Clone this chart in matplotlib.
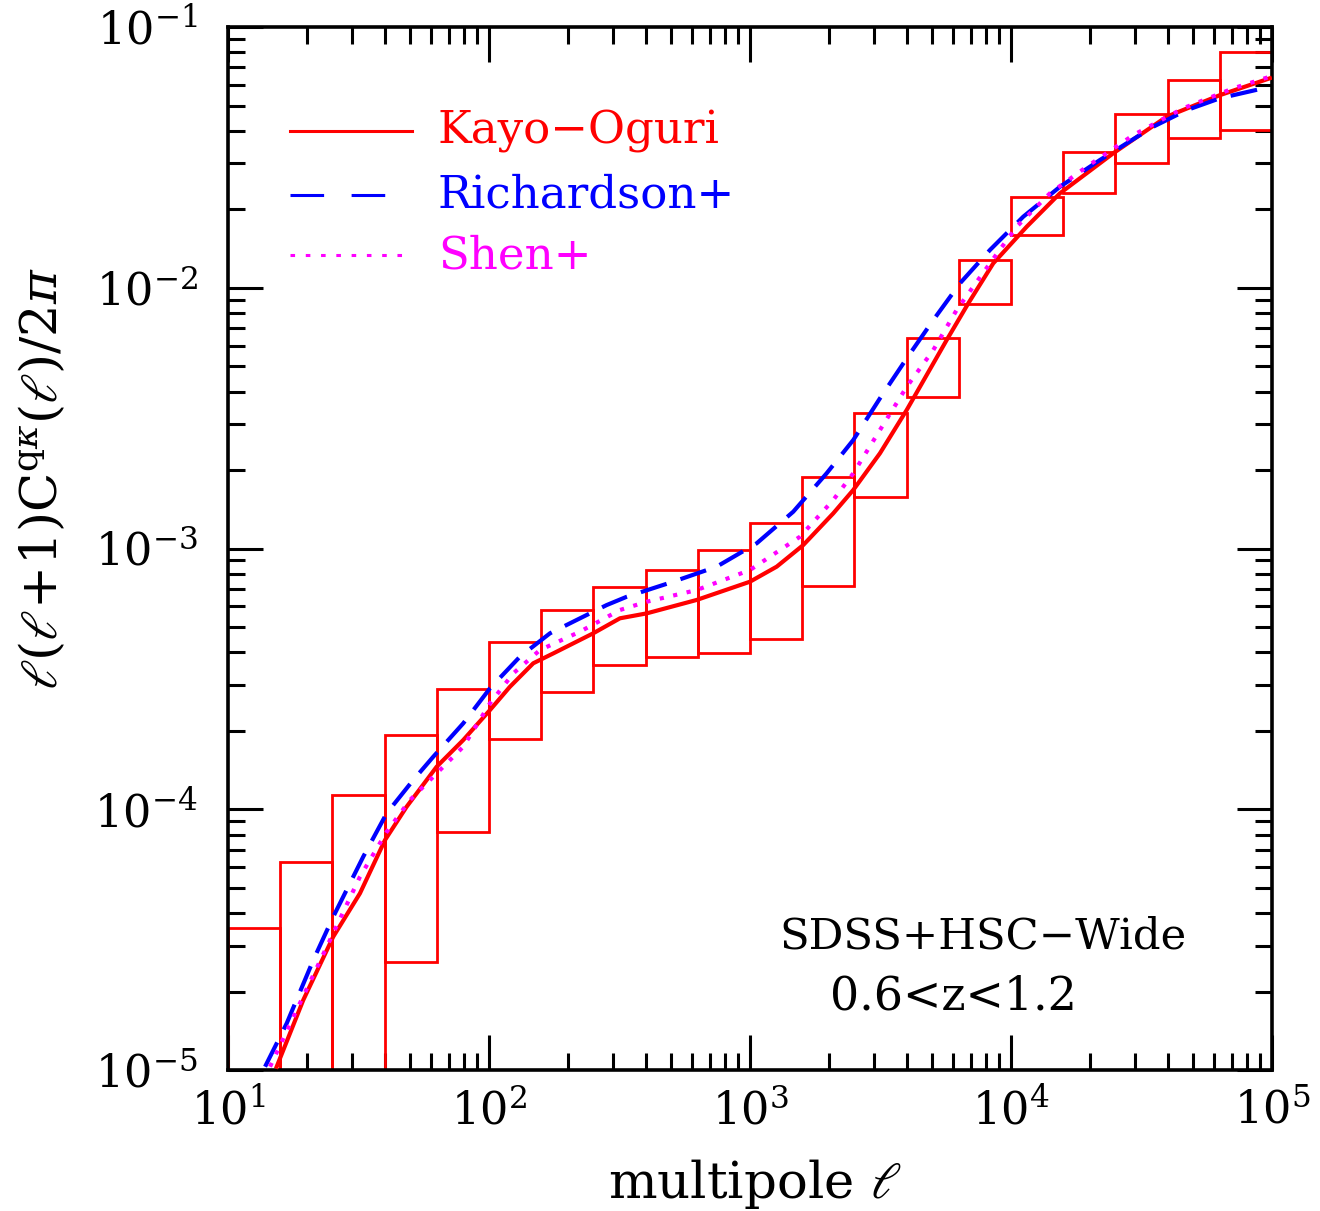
import matplotlib
matplotlib.use("Agg")
import matplotlib.pyplot as plt
from matplotlib.patches import Rectangle

plt.rcParams['font.family'] = ['DejaVu Serif']
plt.rcParams['mathtext.fontset'] = 'dejavuserif'

# bins in multipole (log-spaced edges) and error boxes
bin_edges = [10, 15.85, 25.12, 39.81, 63.1, 100, 158.5, 251.2, 398.1, 631.0, 1000,
             1585, 2512, 3981, 6310, 10000, 15850, 25120, 39810, 63100, 100000]
box_hi = [3.5e-5, 6.28e-5, 1.135e-4, 1.93e-4, 2.89e-4, 4.37e-4, 5.81e-4, 7.11e-4,
          8.28e-4, 9.87e-4, 1.25e-3, 1.88e-3, 3.31e-3, 6.41e-3, 1.28e-2, 2.23e-2,
          3.32e-2, 4.64e-2, 6.26e-2, 8.02e-2]
box_lo = [1e-7, 1e-7, 1e-7, 2.6e-5, 8.19e-5, 1.86e-4, 2.82e-4, 3.57e-4,
          3.84e-4, 3.97e-4, 4.50e-4, 7.18e-4, 1.58e-3, 3.81e-3, 8.67e-3, 1.59e-2,
          2.31e-2, 3.01e-2, 3.75e-2, 4.03e-2]

# model curves
ko_l = [15.37, 19.43, 25.31, 32.04, 39.96, 48.38, 63.04, 79.7, 100.9, 120.3, 147.8,
        176.3, 250.9, 317.6, 402, 625, 1000, 1266, 1600, 2085, 2488, 3148, 3986,
        5670, 6861, 8554, 11486, 15408, 24660, 39500, 63210, 98240]
ko_c = [1.03e-5, 1.855e-5, 3.245e-5, 4.76e-5, 7.62e-5, 1.023e-4, 1.456e-4, 1.843e-4,
        2.402e-4, 2.95e-4, 3.63e-4, 3.96e-4, 4.73e-4, 5.40e-4, 5.64e-4, 6.35e-4,
        7.46e-4, 8.52e-4, 1.031e-3, 1.364e-3, 1.677e-3, 2.318e-3, 3.398e-3, 6.30e-3,
        8.71e-3, 1.241e-2, 1.714e-2, 2.303e-2, 3.28e-2, 4.53e-2, 5.48e-2, 6.36e-2]

ri_l = [13.87, 16.79, 21.23, 25.31, 32.99, 40.55, 51.28, 61.17, 79.7, 100.9, 131.5,
        171.3, 223.3, 282.5, 337, 508, 745.6, 1061, 1465, 1967, 2488, 3148, 3986,
        5040, 6377, 8309, 11146, 15408, 21930, 35100, 47130, 63210, 94000]
ri_c = [1.03e-5, 1.51e-5, 2.64e-5, 3.87e-5, 6.58e-5, 9.65e-5, 1.295e-4, 1.59e-4,
        2.136e-4, 2.91e-4, 3.85e-4, 4.73e-4, 5.40e-4, 6.07e-4, 6.53e-4, 7.46e-4,
        8.52e-4, 1.047e-3, 1.384e-3, 1.943e-3, 2.607e-3, 3.767e-3, 5.36e-3, 7.52e-3,
        1.04e-2, 1.396e-2, 1.873e-2, 2.44e-2, 3.09e-2, 4.147e-2, 4.80e-2, 5.33e-2, 5.84e-2]

sh_l = [14.49, 18.34, 24.59, 32.04, 40.55, 49.82, 63.04, 79.7, 100.9, 123.9, 156.8,
        223.3, 317.6, 402, 625, 1000, 1555, 2085, 2488, 3148, 3986, 5040, 6194,
        8309, 10515, 14104, 19500, 29420, 45730, 71090, 98240]
sh_c = [1.03e-5, 1.70e-5, 3.15e-5, 5.51e-5, 8.19e-5, 1.085e-4, 1.373e-4, 1.737e-4,
        2.548e-4, 3.32e-4, 4.08e-4, 4.80e-4, 5.81e-4, 6.25e-4, 6.93e-4, 8.27e-4,
        1.11e-3, 1.535e-3, 1.943e-3, 2.847e-3, 4.17e-3, 5.77e-3, 8.22e-3, 1.241e-2,
        1.714e-2, 2.303e-2, 2.91e-2, 3.85e-2, 4.88e-2, 5.82e-2, 6.45e-2]

RED = '#ff0000'
BLUE = '#0000ff'
MAG = '#ff00ff'

fig = plt.figure(figsize=(13.2, 12.11), dpi=100)
ax = fig.add_axes([0.1727, 0.1164, 0.7909, 0.8613])
ax.set_xscale('log')
ax.set_yscale('log')
ax.set_xlim(10, 1e5)
ax.set_ylim(1e-5, 1e-1)

# error boxes
for i in range(len(box_hi)):
    x0 = bin_edges[i]
    w = bin_edges[i + 1] - bin_edges[i]
    ax.add_patch(Rectangle((x0, box_lo[i]), w, box_hi[i] - box_lo[i],
                           fill=False, edgecolor=RED, lw=2.0, zorder=2))

ax.plot(ko_l, ko_c, color=RED, lw=3.0, solid_joinstyle='round', zorder=3)
ax.plot(ri_l, ri_c, color=BLUE, lw=3.0, dashes=(6.5, 3.5), zorder=3)
ax.plot(sh_l, sh_c, color=MAG, lw=3.0, dashes=(1, 2.3), zorder=3)

# legend drawn by hand
ly = [0.900, 0.839, 0.781]
ax.plot([0.0594, 0.1762], [ly[0], ly[0]], transform=ax.transAxes, color=RED, lw=2.2)
ax.plot([0.0594, 0.1762], [ly[1], ly[1]], transform=ax.transAxes, color=BLUE, lw=2.2,
        dashes=(11, 9))
ax.plot([0.0594, 0.1762], [ly[2], ly[2]], transform=ax.transAxes, color=MAG, lw=2.2,
        dashes=(1.5, 3.5))
ax.text(0.201, ly[0], 'Kayo\u2212Oguri', transform=ax.transAxes, color=RED,
        fontsize=32.5, va='center', ha='left')
ax.text(0.201, ly[1], 'Richardson+', transform=ax.transAxes, color=BLUE,
        fontsize=32.5, va='center', ha='left')
ax.text(0.201, ly[2], 'Shen+', transform=ax.transAxes, color=MAG,
        fontsize=32.5, va='center', ha='left')

ax.text(0.723, 0.128, 'SDSS+HSC\u2212Wide', transform=ax.transAxes,
        fontsize=31.2, ha='center', va='center')
ax.text(0.695, 0.070, '0.6<z<1.2', transform=ax.transAxes,
        fontsize=33, ha='center', va='center')

# ticks
ax.tick_params(which='both', direction='in', top=True, right=True, width=2.2)
ax.tick_params(which='major', length=25, labelsize=32)
ax.tick_params(which='minor', length=12)
ax.tick_params(axis='y', which='major', pad=22)
ax.tick_params(axis='x', which='major', pad=14)
for s in ax.spines.values():
    s.set_linewidth(2.6)

fig.text(0.572, 0.022, r'multipole $\ell$', fontsize=37, ha='center', va='center')
fig.text(0.032, 0.605, r'$\ell(\ell\!+\!1)\mathrm{C}^{\mathrm{q}\kappa}(\ell)/2\pi$',
         fontsize=37, rotation=90, ha='center', va='center')

fig.savefig('out.png', dpi=100)
